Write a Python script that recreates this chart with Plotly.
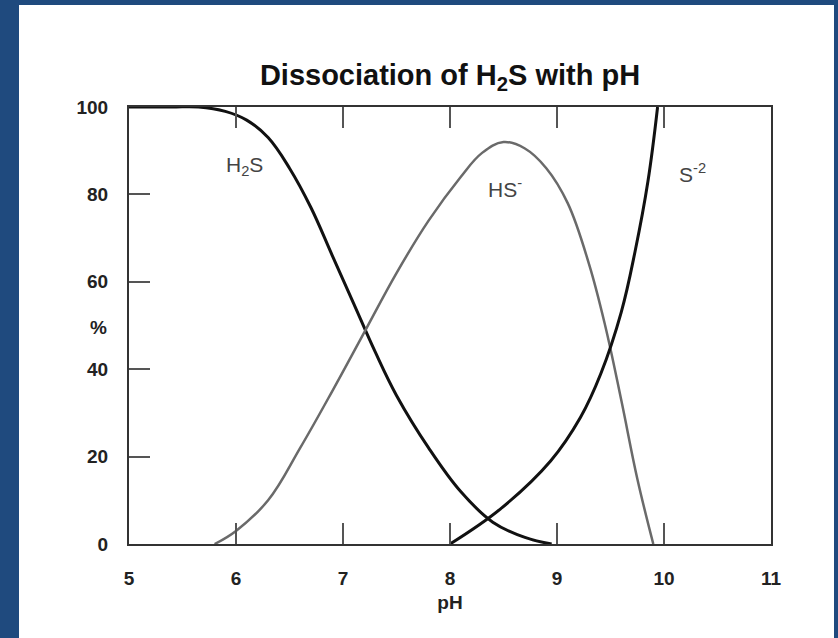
import plotly.graph_objects as go

# pH axis values and percent values
h2s_ph = [5.0, 5.4, 5.65, 5.9, 6.1, 6.3, 6.5, 6.7, 6.9, 7.1, 7.3, 7.5, 7.8, 8.1, 8.4, 8.7, 8.95]
h2s_pct = [100, 100, 100, 99, 97, 93, 86, 77, 66, 55, 44, 34, 22, 12, 5, 1.5, 0]

hs_ph = [5.8, 6.0, 6.3, 6.6, 6.9, 7.2, 7.5, 7.8, 8.1, 8.3, 8.5, 8.7, 8.9, 9.1, 9.3, 9.45, 9.6, 9.75, 9.9]
hs_pct = [0, 3, 10, 22, 35, 48.5, 62, 74, 84, 89.5, 92, 90.5, 86, 78, 64, 50, 33, 15, 0]

s2_ph = [8.0, 8.47, 8.94, 9.22, 9.41, 9.6, 9.73, 9.85, 9.94]
s2_pct = [0, 8, 19, 29, 39, 53, 67, 83, 100]

x_ticks = [5, 6, 7, 8, 9, 10, 11]
y_ticks = [0, 20, 40, 60, 80, 100]

labels = [("H<sub>2</sub>S", 6.08, 86.5), ("HS<sup>-</sup>", 8.51, 81.5), ("S<sup>-2</sup>", 10.27, 85)]

W, H = 838, 638
L, R, T, B = 129, 67, 107, 94
pw, ph = W - L - R, H - T - B

fig = go.Figure()
fig.add_trace(go.Scatter(x=h2s_ph, y=h2s_pct, mode="lines",
                         line=dict(color="#111111", width=3, shape="spline", smoothing=1.1)))
fig.add_trace(go.Scatter(x=hs_ph, y=hs_pct, mode="lines",
                         line=dict(color="#6a6a6a", width=2.5, shape="spline", smoothing=1.1)))
fig.add_trace(go.Scatter(x=s2_ph, y=s2_pct, mode="lines",
                         line=dict(color="#111111", width=3, shape="spline", smoothing=1.1)))

for text, x, y in labels:
    fig.add_annotation(x=x, y=y, text=text, showarrow=False,
                       font=dict(family="Liberation Sans, Arial", size=21, color="#444444"))

axis_font = dict(family="Liberation Sans, Arial", size=19, color="#222222")

# "%" axis label, horizontal as in the reference
fig.add_annotation(xref="paper", yref="paper", x=(88 - L) / pw, y=(H - 327 - B) / ph,
                   text="<b>%</b>", showarrow=False, font=axis_font)

# white card on blue background
fig.add_shape(type="rect", xref="paper", yref="paper", layer="below",
              x0=(19 - L) / pw, x1=(834 - L) / pw,
              y0=(-20 - B) / ph, y1=(H - 5 - B) / ph,
              fillcolor="white", line=dict(width=0))

fig.update_layout(
    width=W, height=H,
    margin=dict(l=L, r=R, t=T, b=B),
    paper_bgcolor="#1f4a7e",
    plot_bgcolor="white",
    showlegend=False,
    title=dict(text="<b>Dissociation of H<sub>2</sub>S with pH</b>",
               x=450 / W, xanchor="center", y=1 - 75 / H, yanchor="middle",
               font=dict(family="Liberation Sans, Arial", size=29, color="#111111")),
    xaxis=dict(range=[5, 11], tickvals=x_ticks, ticktext=[f"<b>{v}</b>" for v in x_ticks],
               ticks="inside", ticklen=21, tickwidth=1.5, tickcolor="#555555",
               showline=True, linecolor="#333333", linewidth=2, mirror="ticks",
               showgrid=False, zeroline=False, tickfont=axis_font, ticklabelstandoff=16,
               title=dict(text="<b>pH</b>", font=axis_font, standoff=8)),
    yaxis=dict(range=[0, 100], tickvals=y_ticks, ticktext=[f"<b>{v}</b>" for v in y_ticks],
               ticks="inside", ticklen=21, tickwidth=1.5, tickcolor="#555555",
               showline=True, linecolor="#333333", linewidth=2, mirror=True,
               showgrid=False, zeroline=False, tickfont=axis_font, ticklabelstandoff=15),
)

fig.write_html("out.html", config={"displayModeBar": False},
               post_script="document.body.style.margin='0px';document.body.style.overflow='hidden';document.body.style.background='#1f4a7e';")
